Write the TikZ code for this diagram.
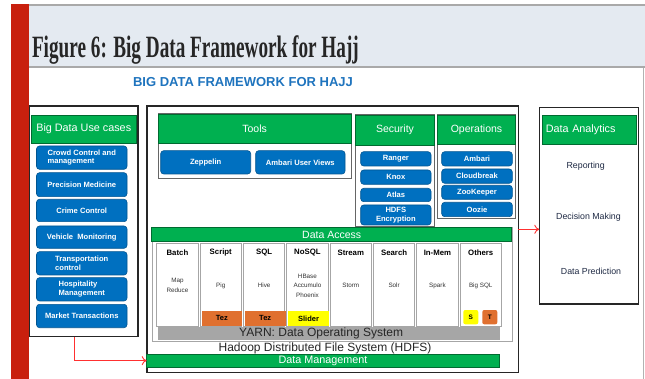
\documentclass[tikz,border=0pt]{standalone}
\usepackage{graphicx}
\usepackage{fontspec}
\setmainfont{Liberation Sans}
\newfontfamily\titlefont{Liberation Serif}
\usetikzlibrary{arrows.meta}
\definecolor{gr}{HTML}{00B050}
\definecolor{bl}{HTML}{0070C0}
\definecolor{redbar}{HTML}{C8200E}
\definecolor{band}{HTML}{E4EAF1}
\definecolor{bandline}{HTML}{A9A9A9}
\definecolor{subblue}{HTML}{1F74BE}
\definecolor{arrowred}{HTML}{FF3030}
\definecolor{tezor}{HTML}{E0702F}
\definecolor{yel}{HTML}{FFFF00}
\definecolor{yarn}{HTML}{A6A6A6}
\definecolor{navy}{HTML}{1F2A44}
\begin{document}
\begin{tikzpicture}[x=1pt,y=-1pt,
  R/.code n args={4}{\pgfmathsetmacro\rw{#3-#1}\pgfmathsetmacro\rh{#4-#2}%
    \pgfkeysalso{/tikz/at={(#1,#2)},/tikz/anchor=north west,/tikz/minimum width=\rw pt,/tikz/minimum height=\rh pt}},
  every node/.style={inner sep=0pt,outer sep=0pt},
  outerbox/.style={draw=black!85,line width=1.4pt,fill=white},
  panel/.style={draw=gray!80!black,line width=1pt,fill=white},
  ghead/.style={fill=gr,draw=gr!60!black,line width=0.8pt,text=white,font=\fontsize{10.5}{12}\selectfont},
  btn/.style={fill=bl,draw=bl!75!black,line width=0.6pt,rounded corners=3pt,text=white,font=\bfseries\fontsize{7.6}{8.6}\selectfont,align=center},
  col/.style={draw=gray!70,line width=1pt,fill=white},
  coltitle/.style={font=\bfseries\fontsize{7.8}{9}\selectfont},
  coltext/.style={font=\fontsize{6.3}{9.5}\selectfont,align=center,text=black!80},
  tag/.style={font=\bfseries\fontsize{7.5}{9}\selectfont},
  item/.style={font=\fontsize{8.8}{10}\selectfont,text=navy},
  redarrow/.style={draw=arrowred,line width=0.9pt,-{To[length=5pt,width=9pt]}}
  ]
\useasboundingbox (0,0) rectangle (645,379);
\fill[white] (0,0) rectangle (645,379);
% header band
\fill[band] (29,5) rectangle (645,67.5);
\draw[bandline,line width=2pt] (29,5) -- (645,5);
\draw[bandline,line width=2pt] (29,67.5) -- (645,67.5);
\fill[redbar] (11,4) rectangle (29,379);
\draw[gray!60,line width=1pt] (643.5,68) -- (643.5,379);
\node[anchor=base west,text=black!85] (title) at (32,58)
  {\scalebox{0.62}[1]{\titlefont\bfseries\fontsize{31}{31}\selectfont Figure 6: Big Data Framework for Hajj}};
\node[text=subblue,font=\bfseries\fontsize{13}{14}\selectfont] (sub) at (243,82.5) {BIG DATA FRAMEWORK FOR HAJJ};

% ---- left: use cases
\node[outerbox,R={29.5}{106}{138}{336.5}] (uc) {};
\node[ghead,R={31}{115}{136.5}{143.3},font=\fontsize{10.8}{12}\selectfont] (uch) {Big Data Use cases};
\node[btn,R={36.5}{146}{127}{169.3},align=left] (u1) {Crowd Control and\\management};
\node[btn,R={36.5}{172.7}{127}{196.7}] (u2) {Precision Medicine};
\node[btn,R={36.5}{199.3}{127}{221.7}] (u3) {Crime Control};
\node[btn,R={36.5}{226}{127}{248.3}] (u4) {Vehicle\ \ Monitoring};
\node[btn,R={36.5}{251.7}{127}{275},align=left] (u5) {Transportation\\control};
\node[btn,R={36.5}{277.7}{127}{301},align=left] (u6) {Hospitality\\Management};
\node[btn,R={36.5}{304.3}{127}{327.7}] (u7) {Market Transactions};

% ---- middle framework
\node[outerbox,R={147}{106}{518.3}{372.5}] (mid) {};
% tools
\node[panel,R={158.3}{114}{351}{179}] (tools) {};
\node[ghead,R={158.3}{114}{351}{143.3}] (toolsh) {Tools};
\node[btn,R={160.7}{150.7}{250.7}{174}] (zep) {Zeppelin};
\node[btn,R={255.7}{150.7}{345}{174}] (auv) {Ambari User Views};
% security
\node[panel,R={355.7}{115}{434.3}{227}] (sec) {};
\node[ghead,R={355.7}{115}{434.3}{145}] (sech) {Security};
\node[btn,R={360.7}{151.7}{431}{166}] (s1) {Ranger};
\node[btn,R={360.7}{170}{431}{184.3}] (s2) {Knox};
\node[btn,R={360.7}{188.3}{431}{201.7}] (s3) {Atlas};
\node[btn,R={360.7}{205}{431}{225},font=\bfseries\fontsize{7.6}{8.4}\selectfont] (s4) {HDFS\\Encryption};
% operations
\node[panel,R={437.3}{115}{515.7}{218.3}] (ops) {};
\node[ghead,R={437.3}{115}{515.7}{144.3}] (opsh) {Operations};
\node[btn,R={441.7}{151.7}{512.3}{166}] (o1) {Ambari};
\node[btn,R={441.7}{169}{512.3}{183.3}] (o2) {Cloudbreak};
\node[btn,R={441.7}{185.3}{512.3}{199.3}] (o3) {ZooKeeper};
\node[btn,R={441.7}{202.3}{512.3}{216.7}] (o4) {Oozie};
% data access
\node[panel,draw=gray!70,R={152}{227.3}{512}{341}] (dac) {};
\node[ghead,R={151.7}{227.3}{511.7}{241.7}] (da) {Data Access};
\foreach \t/\c [count=\i from 0] in {Batch/{Map\\Reduce},Script/Pig,SQL/Hive,NoSQL/{HBase\\Accumulo\\Phoenix},Stream/Storm,Search/Solr,In-Mem/Spark,Others/Big SQL}{
  \pgfmathsetmacro\xl{156.7+43.33*\i}
  \pgfmathsetmacro\xr{\xl+41.5}
  \pgfmathsetmacro\xc{\xl+20.75}
  \node[col,R={\xl}{244}{\xr}{326.7}] (col\i) {};
  \node[coltitle] (colt\i) at (\xc,252.5) {\t};
  \node[coltext] (colc\i) at (\xc,285.5) {\c};
}
\node[tag,fill=tezor,R={201.5}{310.7}{242.3}{326}] (tez1) {Tez};
\node[tag,fill=tezor,R={244.8}{310.7}{285.6}{326}] (tez2) {Tez};
\node[tag,fill=yel,R={288.1}{310.7}{328.9}{326}] (slider) {Slider};
\node[tag,fill=yel,rounded corners=2pt,R={463.3}{310}{478.3}{324.3},font=\bfseries\fontsize{6.5}{8}\selectfont] (ts) {S};
\node[tag,fill=tezor,rounded corners=2pt,R={482.3}{310}{497.3}{324.3},font=\bfseries\fontsize{6.5}{8}\selectfont] (tt) {T};
\node[fill=yarn,R={158.3}{326.7}{500}{340},font=\fontsize{12}{13}\selectfont,text=black!85] (yarn) {\hspace*{-16pt}YARN: Data Operating System};
\node[font=\fontsize{12}{13}\selectfont,text=black!85] (hdfs) at (325,348.3) {Hadoop Distributed File System (HDFS)};
\node[ghead,R={146.7}{354}{499.3}{367.3},font=\fontsize{10.8}{12}\selectfont] (dm) {Data Management};

% ---- right: data analytics
\node[outerbox,R={539.3}{107.3}{638.3}{304}] (an) {};
\node[ghead,R={542.7}{115}{636}{144.3},font=\fontsize{10.8}{12}\selectfont,align=left,text width=87pt] (anh) {Data Analytics};
\node[item] (rep) at (585.7,166.7) {Reporting};
\node[item] (dec) at (588.5,217.3) {Decision Making};
\node[item] (pred) at (591,271.7) {Data Prediction};

% ---- arrows
\coordinate (a1) at (518.3,229.3);
\draw[redarrow] (a1) -- (an.west |- a1);
\coordinate (a2) at (74.3,337.2);
\draw[redarrow] (a2) |- (dm.west);
\end{tikzpicture}
\end{document}
